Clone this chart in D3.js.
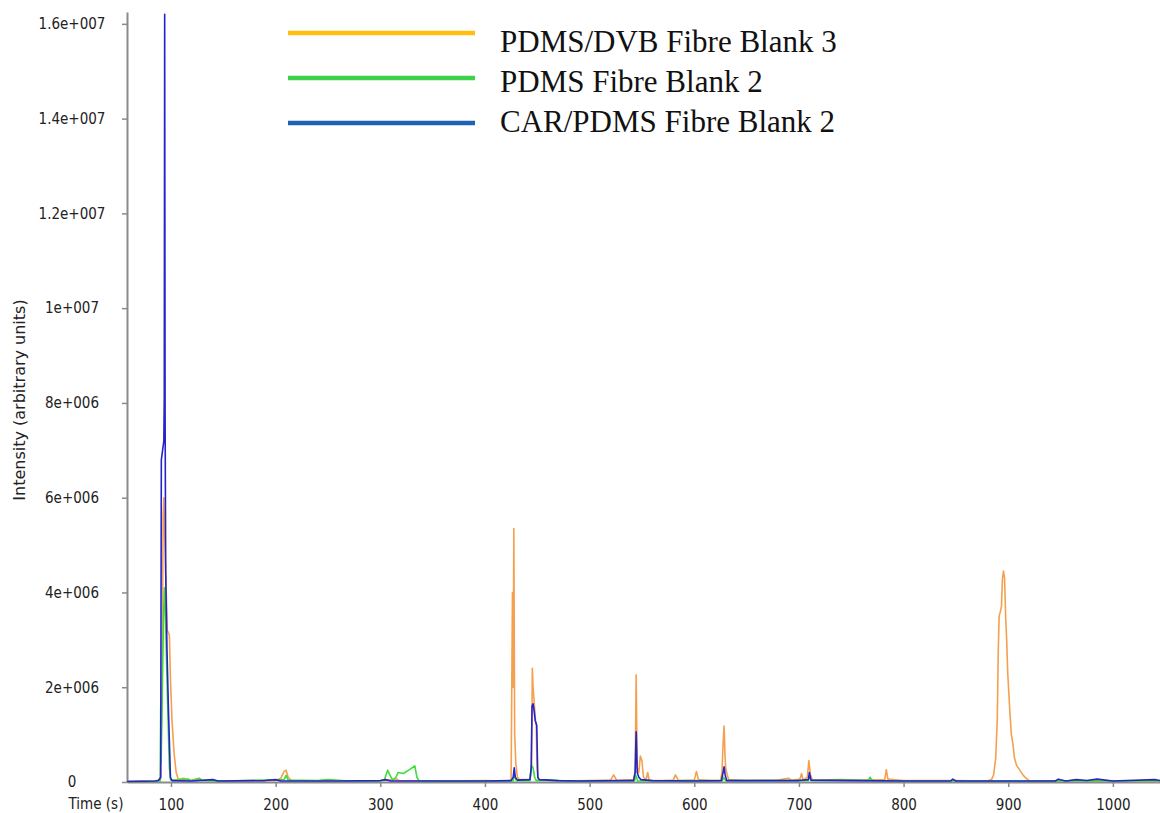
<!DOCTYPE html>
<html>
<head>
<meta charset="utf-8">
<script src="https://cdn.jsdelivr.net/npm/d3@7"></script>
<style>
    body { margin: 0; background: #fff; }
    .tick text { font-family: "DejaVu Sans Condensed", "DejaVu Sans", sans-serif; font-size: 15px; fill: #222; }
</style>
</head>
<body>
<div id="chart"></div>
<script>
// Time (s) vs intensity, intensity in units of 1e6
const pdmsDvbBlank3 = [
    [58, 0.01], [85, 0.02], [90, 0.05], [91.5, 2.0], [92.5, 5.6], [93.2, 6.0], [94, 5.2], [95, 4.4],
    [96.5, 3.2], [98.5, 3.1], [99.5, 2.2], [101, 1.3], [103, 0.6], [105, 0.2], [107, 0.05],
    [112, 0.08], [118, 0.03], [125, 0.06], [130, 0.04], [140, 0.03], [160, 0.02], [180, 0.02],
    [200, 0.03], [205, 0.08], [208, 0.22], [210, 0.25], [212, 0.1], [215, 0.03], [250, 0.02],
    [300, 0.02], [316, 0.06], [318, 0.03], [350, 0.02], [400, 0.03], [420, 0.02],
    [425, 0.03], [426.3, 4.0], [427, 2.0], [427.6, 5.35], [428.4, 1.0], [429.5, 0.4], [431, 0.1], [433, 0.05],
    [443, 0.05], [444.5, 0.3], [445.3, 2.4], [446, 2.0], [447, 1.7], [448.3, 1.3], [449, 1.2], [449.8, 0.3], [451, 0.05],
    [470, 0.02], [500, 0.03], [520, 0.04], [523, 0.15], [526, 0.03],
    [542, 0.05], [543.5, 0.2], [544.5, 2.26], [545.5, 0.3], [547, 0.2], [548.5, 0.55], [550, 0.45],
    [551.5, 0.1], [554, 0.05], [555.5, 0.2], [557, 0.03],
    [570, 0.03], [580, 0.04], [582, 0.15], [585, 0.03], [600, 0.04], [602, 0.22], [604, 0.05], [615, 0.03],
    [625, 0.03], [626.5, 0.2], [627.5, 0.8], [628.5, 1.18], [629.3, 0.6], [630, 0.3], [631.5, 0.15], [633, 0.05],
    [650, 0.03], [680, 0.04], [690, 0.08], [693, 0.03], [701, 0.06], [702.5, 0.18], [704, 0.04],
    [708, 0.1], [709.5, 0.45], [711, 0.15], [713, 0.04], [740, 0.05], [760, 0.04],
    [782, 0.05], [783.5, 0.26], [785, 0.06], [800, 0.03], [850, 0.03], [880, 0.02],
    [884, 0.05], [886, 0.15], [888, 0.5], [889.5, 1.3], [890.5, 2.8], [891.3, 3.5], [892.5, 3.6],
    [893.5, 3.7], [894.5, 4.3], [895.5, 4.45], [896.5, 4.3], [897.5, 3.5], [898.5, 3.0], [899.5, 2.3],
    [900.5, 1.9], [901.5, 1.5], [903, 1.0], [904.5, 0.8], [906, 0.5], [908, 0.35], [911, 0.25],
    [914, 0.15], [917, 0.08], [920, 0.03], [950, 0.02], [1045, 0.01]
];

const pdmsBlank2 = [
    [58, 0.01], [88, 0.02], [89.8, 0.02], [90.2, 1.6], [90.6, 0.4], [93, 3.6], [93.8, 4.1], [94.5, 3.7],
    [95.5, 2.8], [97, 1.5], [98.5, 0.3], [99.5, 0.05], [100, 0.04], [117, 0.06], [119, 0.02],
    [127, 0.08], [130, 0.03], [150, 0.02], [208, 0.05], [210, 0.14], [212, 0.04], [240, 0.03],
    [250, 0.05], [270, 0.02], [300, 0.02], [304, 0.05], [307, 0.25], [309, 0.15], [312, 0.04],
    [315, 0.1], [317, 0.2], [322, 0.18], [328, 0.26], [333, 0.34], [335, 0.1], [337, 0.03],
    [360, 0.02], [400, 0.02], [427, 0.02], [428, 0.15], [430, 0.03], [443, 0.03], [444.5, 0.35],
    [446, 0.3], [447.5, 0.1], [449, 0.03], [460, 0.04], [480, 0.02], [543, 0.03], [544, 0.15],
    [546, 0.02], [600, 0.03], [627, 0.03], [628, 0.1], [630, 0.03], [700, 0.03], [709, 0.03],
    [710, 0.1], [712, 0.03], [750, 0.04], [766, 0.03], [768, 0.1], [770, 0.03], [800, 0.02],
    [900, 0.02], [1045, 0.02]
];

const carPdmsBlank2 = [
    [58, 0.01], [85, 0.02], [88, 0.03], [90.2, 0.1], [90.8, 6.8], [93.2, 7.2], [93.6, 8.1], [94, 16.2],
    [94.4, 7.8], [95, 4.4], [96.2, 2.8], [97.5, 1.6], [99.5, 0.1], [101, 0.03], [120, 0.02],
    [140, 0.05], [145, 0.02], [190, 0.03], [200, 0.05], [205, 0.02], [260, 0.02], [300, 0.03],
    [305, 0.05], [310, 0.02], [340, 0.02], [400, 0.02], [425, 0.03], [427, 0.1], [428, 0.3],
    [429, 0.1], [431, 0.04], [443, 0.05], [444.2, 0.3], [445, 1.6], [446, 1.65], [447, 1.5],
    [448, 1.3], [449.5, 1.2], [450.5, 0.1], [452, 0.05], [470, 0.03], [490, 0.02], [530, 0.03],
    [542, 0.03], [543.5, 0.2], [544.5, 1.06], [545.5, 0.2], [547, 0.1], [549, 0.05], [560, 0.03],
    [600, 0.02], [626, 0.03], [627.5, 0.2], [628.5, 0.32], [629.5, 0.15], [631, 0.03], [660, 0.03],
    [700, 0.03], [709, 0.05], [710, 0.2], [711.5, 0.04], [750, 0.03], [800, 0.02], [845, 0.02],
    [847, 0.06], [850, 0.02], [900, 0.02], [945, 0.02], [948, 0.06], [955, 0.02], [965, 0.05],
    [975, 0.03], [985, 0.06], [1000, 0.02], [1040, 0.05], [1045, 0.03]
];

const seriesNames = ["PDMS/DVB Fibre Blank 3", "PDMS Fibre Blank 2", "CAR/PDMS Fibre Blank 2"];
const xTicks = [100, 200, 300, 400, 500, 600, 700, 800, 900, 1000];
const yTicks = [0, 2, 4, 6, 8, 10, 12, 14, 16];
const yTickLabels = ["0", "2e+006", "4e+006", "6e+006", "8e+006", "1e+007", "1.2e+007", "1.4e+007", "1.6e+007"];

const width = 1160, height = 813;
const lineColors = ["#f5a04e", "#3ddc3d", "#2424c8"];
const legendColors = ["#ffbe10", "#3cd34a", "#1e62b6"];
const axisColor = "#8a8a8a";

const svg = d3.select("#chart").append("svg")
    .attr("width", width)
    .attr("height", height);

const x = d3.scaleLinear().domain([58, 1045]).range([127, 1160]);
const y = d3.scaleLinear().domain([0, 16.25]).range([782, 12]);

// axes
const xAxis = svg.append("g")
    .attr("transform", `translate(0,${y(0)})`)
    .call(d3.axisBottom(x).tickValues(xTicks).tickSize(5).tickSizeOuter(0).tickPadding(12)
        .tickFormat(d3.format("d")));

const yAxis = svg.append("g")
    .attr("transform", `translate(${x.range()[0]},0)`)
    .call(d3.axisLeft(y).tickValues(yTicks).tickSize(5).tickSizeOuter(0)
        .tickFormat((d, i) => yTickLabels[i]));

[xAxis, yAxis].forEach(g => {
    g.select(".domain").attr("stroke", axisColor).attr("stroke-width", 2);
    g.selectAll(".tick line").attr("stroke", axisColor).attr("stroke-width", 1.5);
});

// y labels are centred in the left margin
yAxis.selectAll(".tick text")
    .attr("text-anchor", "middle")
    .attr("x", 72 - x.range()[0]);

svg.append("text")
    .attr("x", 96)
    .attr("y", 809)
    .attr("text-anchor", "middle")
    .style("font-family", "'DejaVu Sans Condensed', 'DejaVu Sans', sans-serif")
    .style("font-size", "15px")
    .style("fill", "#222")
    .text("Time (s)");

svg.append("text")
    .attr("transform", "translate(25,400) rotate(-90)")
    .attr("text-anchor", "middle")
    .style("font-family", "'DejaVu Sans', sans-serif")
    .style("font-size", "16px")
    .style("fill", "#222")
    .text("Intensity (arbitrary units)");

// traces
const line = d3.line()
    .x(d => x(d[0]))
    .y(d => y(d[1]));

[pdmsDvbBlank3, pdmsBlank2, carPdmsBlank2].forEach((series, i) => {
    svg.append("path")
        .datum(series)
        .attr("fill", "none")
        .attr("stroke", lineColors[i])
        .attr("stroke-width", 1.6)
        .attr("stroke-linejoin", "round")
        .attr("d", line);
});

// legend
const legendY = d3.scaleLinear().domain([0, 2]).range([33, 123]);
const legend = svg.append("g");
seriesNames.forEach((name, i) => {
    legend.append("line")
        .attr("x1", 288).attr("x2", 475)
        .attr("y1", legendY(i)).attr("y2", legendY(i))
        .attr("stroke", legendColors[i])
        .attr("stroke-width", 4.5);
    legend.append("text")
        .attr("x", 500)
        .attr("y", legendY(i) + 19 - i * 5)
        .style("font-family", "'Liberation Serif', 'Times New Roman', serif")
        .style("font-size", "31px")
        .style("fill", "#111")
        .text(name);
});
</script>
</body>
</html>
